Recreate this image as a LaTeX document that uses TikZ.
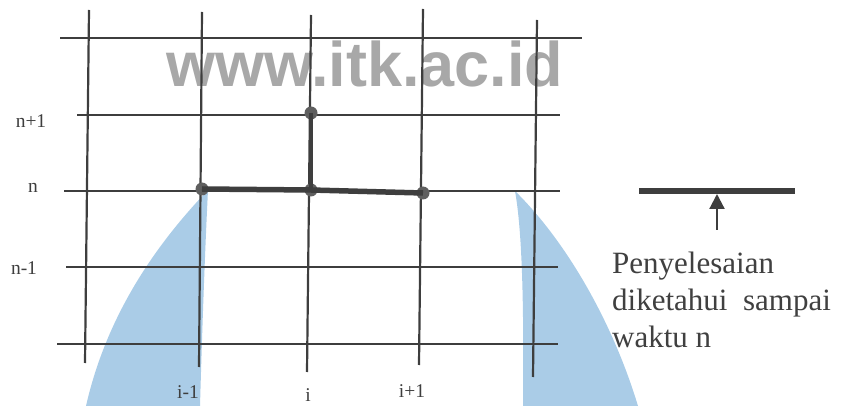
\documentclass[tikz,border=0pt]{standalone}
\usepackage{fontspec}
\setmainfont{Liberation Serif}
\newfontfamily\wmfont{Liberation Sans}
\usepackage{tikz}
\usetikzlibrary{calc,arrows.meta,positioning}
\definecolor{gridgray}{RGB}{62,62,62}
\definecolor{dotgray}{RGB}{95,95,95}
\definecolor{wmgray}{RGB}{168,168,168}
\definecolor{logoblue}{RGB}{170,204,231}
\definecolor{txtgray}{RGB}{64,64,64}
\tikzset{
    grid line/.style={draw=gridgray,line width=2.2pt},
    stencil line/.style={draw=gridgray,line width=5.5pt},
    grid dot/.style={
        circle,fill=dotgray,inner sep=0pt,minimum size=13pt
    },
    axis label/.style={
        text=gridgray,inner sep=0pt,
        font=\fontsize{19.5}{21}\selectfont
    },
    note text/.style={
        text=txtgray,inner sep=0pt,anchor=base west,
        font=\fontsize{31}{37}\selectfont
    },
    >={Triangle[width=15pt,length=15pt]}
}
\begin{document}
\begin{tikzpicture}[x=1pt,y=-1pt]
\useasboundingbox (0,0) rectangle (841,406);
\begin{scope}
\clip (0,0) rectangle (841,406);
\fill[logoblue] (208,190) .. controls (172,228) and (110,300) .. (86,406)
    -- (200,406) .. controls (203,300) and (206,230) .. cycle;
\fill[logoblue] (515,191) .. controls (522,230) and (524,300) .. (523,406)
    -- (638,406) .. controls (612,320) and (565,240) .. cycle;
\end{scope}
\node[text=wmgray,inner sep=0pt,font=\wmfont\bfseries\fontsize{63}{63}\selectfont] (watermark) at (365,64) {www.itk.ac.id};
\foreach \xt/\yt/\xb/\yb in {89/10/85/363,202/12/199/367,311/15/307/372,423/9/419/365,537/20/533/377}
    \draw[grid line] (\xt,\yt) -- (\xb,\yb);
\foreach \xl/\xr/\y in {60/582/38,77/560/115,64/560/191,66/558/267,57/558/344}
    \draw[grid line] (\xl,\y) -- (\xr,\y);
\node[grid dot] (dot_im1) at (202,189) {};
\node[grid dot] (dot_i) at (311,190) {};
\node[grid dot] (dot_ip1) at (423,193) {};
\node[grid dot] (dot_np1) at (311,113) {};
\draw[stencil line] (dot_im1.center) -- (dot_i.center) -- (dot_ip1.center);
\draw[draw=gridgray,line width=4pt] (dot_np1.center) -- (dot_i.center);
\node[axis label] (lab_np1) at (31,121) {n+1};
\node[axis label] (lab_n) at (33,188) {n};
\node[axis label] (lab_nm1) at (24,268) {n-1};
\node[axis label] (lab_im1) at (188,392) {i-1};
\node[axis label] (lab_i) at (308,395) {i};
\node[axis label] (lab_ip1) at (412,391) {i+1};
\coordinate (bar_l) at (639,191);
\coordinate (bar_r) at (795,191);
\coordinate (arr_tip) at (717,194);
\coordinate (arr_foot) at (717,230);
\draw[draw=gridgray,line width=5.5pt] (bar_l) -- (bar_r);
\draw[draw=gridgray,line width=2.2pt,->] (arr_foot) -- (arr_tip);
\node[note text] (note_a) at (612,273) {Penyelesaian};
\node[note text] (note_b) at (612,310) {diketahui\ \ sampai};
\node[note text] (note_c) at (612,347) {waktu n};
\end{tikzpicture}
\end{document}
